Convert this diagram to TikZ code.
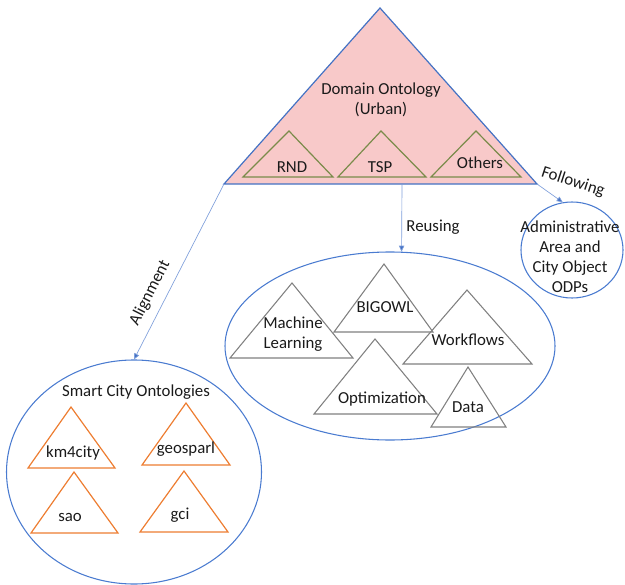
\documentclass[tikz,border=0pt]{standalone}
\usepackage{fontspec}
\setmainfont{Carlito}
\usetikzlibrary{shapes.geometric,arrows.meta}

\definecolor{domfill}{HTML}{F8C9C9}
\definecolor{domline}{HTML}{4472C4}
\definecolor{subline}{HTML}{7A8B4A}
\definecolor{ringline}{HTML}{4A7BD0}
\definecolor{linkline}{HTML}{7F9FDB}
\definecolor{greyline}{HTML}{808080}
\definecolor{orangeline}{HTML}{ED7D31}
\definecolor{txt}{HTML}{1A1A1A}

\tikzset{
  lbl/.style={font=\fontsize{12.6}{15}\selectfont, text=txt, align=center, inner sep=0pt},
  ring/.style={ellipse, draw=ringline, line width=0.8pt, inner sep=0pt},
  domtri/.style={fill=domfill, draw=domline, line width=0.9pt, line join=miter},
  subtri/.style={draw=subline, line width=0.9pt},
  greytri/.style={draw=greyline, line width=0.8pt},
  orangetri/.style={draw=orangeline, line width=0.9pt},
  link/.style={draw=linkline, line width=0.5pt, -{Triangle[length=4.5pt,width=4pt,fill=domline]}},
}

\begin{document}
\begin{tikzpicture}[x=0.75pt, y=-0.75pt]
\useasboundingbox (0,0) rectangle (625,585);

% domain ontology pyramid
\coordinate (apex) at (380,8);
\coordinate (baseL) at (224,184);
\coordinate (baseR) at (537,184);
\coordinate (baseMid) at (402,184);
\draw[domtri] (apex) -- (baseR) -- (baseL) -- cycle;
\node[lbl] (dom) at (381,100) {Domain Ontology\\(Urban)};

\draw[subtri] (289,131) -- (333,177) -- (243,177) -- cycle;
\draw[subtri] (381,131) -- (426,177) -- (338,177) -- cycle;
\draw[subtri] (476,131) -- (521,177) -- (431,177) -- cycle;
\node[lbl] (rnd) at (292,167) {RND};
\node[lbl] (tsp) at (380,167) {TSP};
\node[lbl] (others) at (480,163) {Others};

% target ellipses
\node[ring, minimum width=102*0.75pt, minimum height=96*0.75pt] (admin) at (572,250) {};
\node[lbl] (admintxt) at (570,257) {Administrative\\Area and\\City Object\\ODPs};

\node[ring, minimum width=330*0.75pt, minimum height=188*0.75pt] (reuse) at (390,346) {};

\node[ring, minimum width=255*0.75pt, minimum height=224*0.75pt] (smart) at (134,472) {};
\node[lbl] (smarttitle) at (136,392) {Smart City Ontologies};

% reused ontologies
\draw[greytri] (292,283) -- (353,358) -- (230,358) -- cycle;
\draw[greytri] (384,264) -- (433,332) -- (334,332) -- cycle;
\draw[greytri] (467,290) -- (532,364) -- (403,364) -- cycle;
\draw[greytri] (375,339) -- (437,414) -- (314,414) -- cycle;
\draw[greytri] (468,367) -- (506,427) -- (431,427) -- cycle;
\node[lbl] (ml) at (293,334) {Machine\\Learning};
\node[lbl] (bigowl) at (385,307) {BIGOWL};
\node[lbl] (wf) at (468,340) {Workflows};
\node[lbl] (opt) at (382,399) {Optimization};
\node[lbl] (data) at (468,407) {Data};

% smart city ontologies
\draw[orangetri] (71,407) -- (115,468) -- (28,468) -- cycle;
\draw[orangetri] (186,403) -- (230,465) -- (142,465) -- cycle;
\draw[orangetri] (74,472) -- (118,533) -- (31,533) -- cycle;
\draw[orangetri] (184,471) -- (228,532) -- (140,532) -- cycle;
\node[lbl] (km) at (73,453) {km4city};
\node[lbl] (geo) at (186,449) {geosparl};
\node[lbl] (sao) at (70,517) {sao};
\node[lbl] (gci) at (180,515) {gci};

% relations
\draw[link] (baseL) -- (smart.north);
\draw[link] (baseMid) -- (reuse.83);
\draw[link] (baseR) -- (admin.101);
\node[lbl, rotate=63] (align) at (150,293) {Alignment};
\node[lbl] (reusing) at (433,227) {Reusing};
\node[lbl, rotate=-18] (follow) at (573,182) {Following};
\end{tikzpicture}
\end{document}
